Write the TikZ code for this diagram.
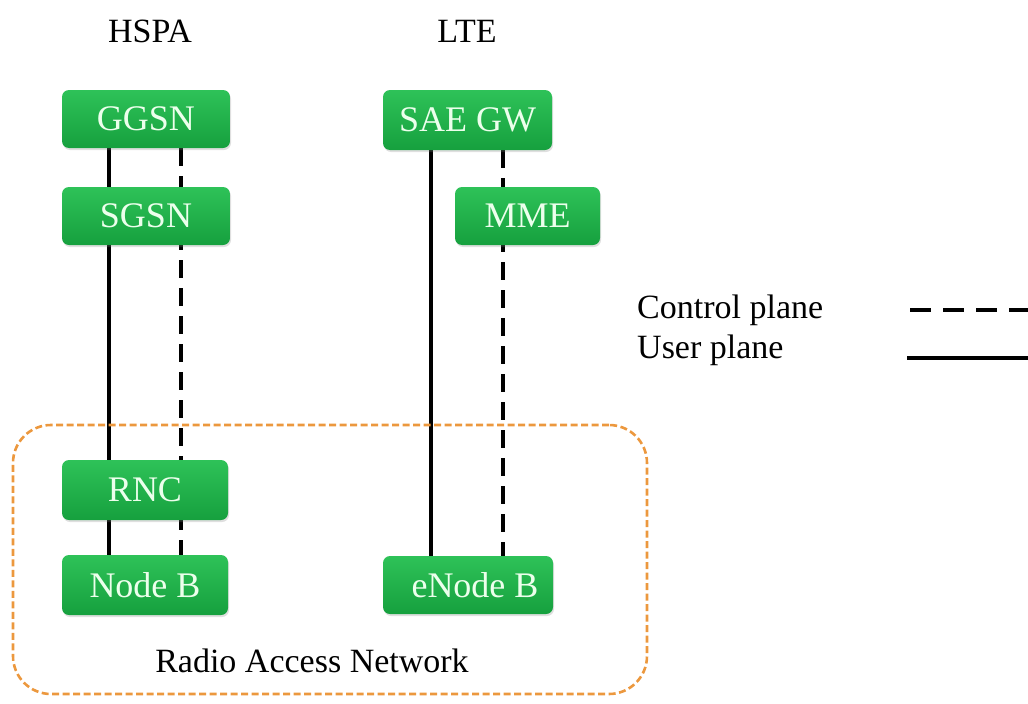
\documentclass[tikz,border=0pt]{standalone}
\usepackage{fontspec}
\setmainfont{Liberation Serif}
\usetikzlibrary{shadows,backgrounds}
\definecolor{boxtop}{RGB}{46,194,88}
\definecolor{boxbot}{RGB}{22,160,62}
\definecolor{boxtext}{RGB}{236,255,236}
\definecolor{ranorange}{RGB}{236,152,62}
\begin{document}
\begin{tikzpicture}[x=1pt,y=-1pt,
  txt/.style={font=\fontsize{34}{40}\selectfont, inner sep=0pt},
  netbox/.style={inner sep=0pt, font=\fontsize{36}{42}\selectfont,
    rounded corners=7pt, top color=boxtop, bottom color=boxbot,
    draw=none, text=boxtext,
    drop shadow={shadow xshift=1pt, shadow yshift=-2pt, opacity=0.25}},
  userline/.style={line width=3.4pt, black},
  ctrlline/.style={line width=3.4pt, black, dash pattern=on 18pt off 10pt},
  ranbox/.style={draw=ranorange, line width=2.6pt, dash pattern=on 7pt off 3.5pt,
    rounded corners=38pt, inner sep=0pt}
]
\useasboundingbox (0,0) rectangle (1028,704);

% column titles
\node[txt, anchor=base] (hspa) at (150,42) {HSPA};
\node[txt, anchor=base] (lte)  at (467,42) {LTE};

% HSPA network elements
\node[netbox, minimum width=168pt, minimum height=58pt] (ggsn) at (146,119) {GGSN};
\node[netbox, minimum width=168pt, minimum height=58pt] (sgsn) at (146,216) {SGSN};
\node[netbox, minimum width=166pt, minimum height=60pt] (rnc)  at (145,490) {RNC};
\node[netbox, minimum width=166pt, minimum height=60pt] (nodeb) at (145,585) {Node B};

% LTE network elements
\node[netbox, minimum width=169pt, minimum height=60pt] (saegw) at (467.5,120) {SAE GW};
\node[netbox, minimum width=145pt, minimum height=58pt] (mme) at (527.5,216) {MME};
\node[netbox, minimum width=170pt, minimum height=58pt] (enodeb) at (468,585) {\hspace*{14pt}eNode B};

% radio access network boundary
\node[ranbox, minimum width=634pt, minimum height=269pt] (ran) at (330,559.5) {};
\node[txt, anchor=base] (ranlabel) at (312,672) {Radio Access Network};

% plane connectors, running behind the boxes
\coordinate (hu) at (109,0);
\coordinate (hc) at (181,0);
\coordinate (lu) at (431,0);
\coordinate (lc) at (503,0);
\begin{scope}[on background layer]
  \draw[userline] (ggsn.south -| hu) -- (nodeb.north -| hu);
  \draw[ctrlline] (ggsn.south -| hc) -- (nodeb.north -| hc);
  \draw[userline] (saegw.south -| lu) -- (enodeb.north -| lu);
  \draw[ctrlline] (saegw.south -| lc) -- (enodeb.north -| lc);
\end{scope}

% legend
\node[txt, anchor=base west] (cplabel) at (637,318) {Control plane};
\node[txt, anchor=base west] (uplabel) at (637,358) {User plane};
\coordinate (cpa) at (910,310);
\coordinate (cpb) at (1028,310);
\coordinate (upa) at (907,358);
\coordinate (upb) at (1028,358);
\draw[line width=4pt, dash pattern=on 21pt off 12pt] (cpa) -- (cpb);
\draw[line width=4pt] (upa) -- (upb);
\end{tikzpicture}
\end{document}
